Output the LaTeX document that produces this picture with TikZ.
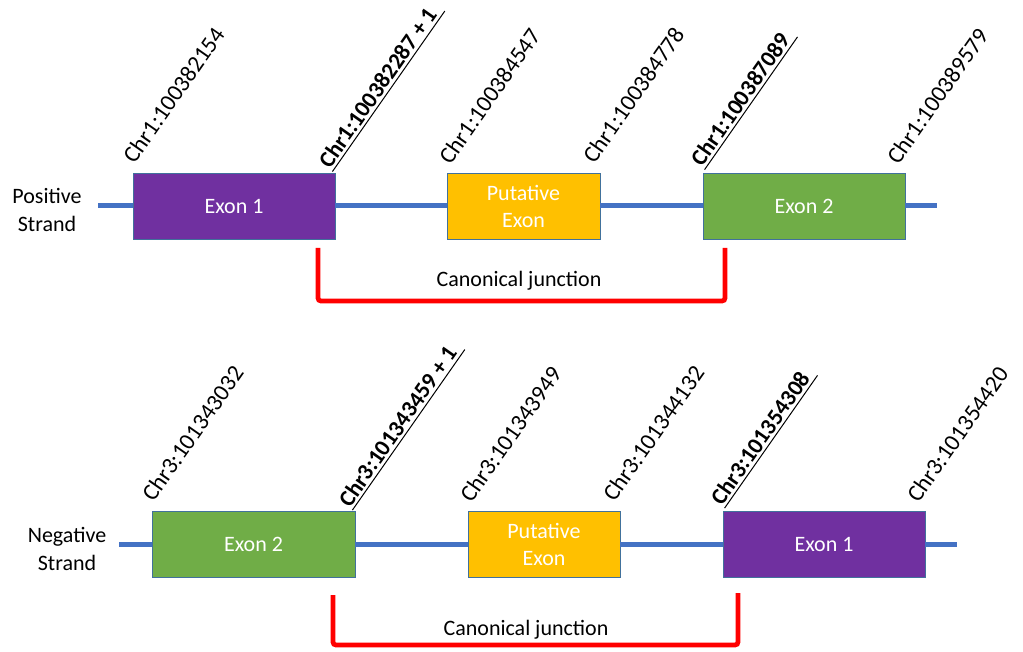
\documentclass[tikz,border=0pt]{standalone}
\usepackage{fontspec}
\setmainfont{Carlito}
\definecolor{exonpurple}{HTML}{7030A0}
\definecolor{exongreen}{HTML}{70AD47}
\definecolor{exonyellow}{HTML}{FFC000}
\definecolor{strandblue}{HTML}{4472C4}
\definecolor{exonedge}{HTML}{41719C}
\begin{document}
\begin{tikzpicture}[x=1pt,y=1pt,
  exon/.style={draw=exonedge, line width=0.8pt, minimum height=66pt, text=white,
    align=center, inner sep=0pt, font=\fontsize{22}{27}\selectfont},
  strand/.style={strandblue, line width=5pt},
  coordlbl/.style={anchor=base west, rotate=55, inner sep=0pt, font=\fontsize{23.5}{26}\selectfont},
  splicelbl/.style={coordlbl, font=\fontsize{23}{26}\selectfont\bfseries},
  underl/.style={line width=1pt},
  junction/.style={red, line width=4.8pt, rounded corners=3pt},
  txt/.style={align=center, font=\fontsize{22}{28}\selectfont}]
\useasboundingbox (0,0) rectangle (1023,651);

% positive strand
\node[exon, fill=exonpurple, minimum width=202pt] (pe1) at (234,445) {Exon 1};
\node[exon, fill=exonyellow, minimum width=153pt] (ppu) at (523.5,445) {Putative\\Exon};
\node[exon, fill=exongreen, minimum width=202pt] (pe2) at (804,445) {Exon 2};
\node[txt] (ptxt) at (47,441) {Positive\\Strand};
\coordinate (ps) at (98,445);
\coordinate (pe) at (937,445);
\draw[strand] (ps) -- (pe1.west) (pe1.east) -- (ppu.west) (ppu.east) -- (pe2.west) (pe2.east) -- (pe);

\node[coordlbl] at ([shift={(2,8)}]pe1.north west) {Chr1:100382154};
\draw[underl] ([shift={(-3,1)}]pe1.north east) coordinate (pu1) -- ++(55:196);
\node[splicelbl] at ([shift={(145:3)}]pu1) {Chr1:100382287 + 1};
\node[coordlbl] at ([shift={(4,7)}]ppu.north west) {Chr1:100384547};
\node[coordlbl] at ([shift={(-6,8)}]ppu.north east) {Chr1:100384778};
\draw[underl] ([shift={(2,3)}]pe2.north west) coordinate (pu2) -- ++(55:162);
\node[splicelbl] at ([shift={(145:3)}]pu2) {Chr1:100387089};
\node[coordlbl] at ([shift={(-7,7)}]pe2.north east) {Chr1:100389579};

\coordinate (pj1) at (318,403);
\coordinate (pj2) at (725,403);
\draw[junction] (pj1) -- ++(0,-53) -| (pj2);
\node[txt] (pjt) at (519,370) {Canonical junction};

% negative strand
\node[exon, fill=exongreen, minimum width=203pt] (ne2) at (253.5,106.5) {Exon 2};
\node[exon, fill=exonyellow, minimum width=152pt] (npu) at (544,106.5) {Putative\\Exon};
\node[exon, fill=exonpurple, minimum width=202pt] (ne1) at (824,106.5) {Exon 1};
\node[txt] (ntxt) at (67,102) {Negative\\Strand};
\coordinate (ns) at (119,106.5);
\coordinate (ne) at (957,106.5);
\draw[strand] (ns) -- (ne2.west) (ne2.east) -- (npu.west) (npu.east) -- (ne1.west) (ne1.east) -- (ne);

\node[coordlbl] at ([shift={(2,8)}]ne2.north west) {Chr3:101343032};
\draw[underl] ([shift={(-3,1)}]ne2.north east) coordinate (nu1) -- ++(55:196);
\node[splicelbl] at ([shift={(145:3)}]nu1) {Chr3:101343459 + 1};
\node[coordlbl] at ([shift={(4,7)}]npu.north west) {Chr3:101343949};
\node[coordlbl] at ([shift={(-6,8)}]npu.north east) {Chr3:101344132};
\draw[underl] ([shift={(2,3)}]ne1.north west) coordinate (nu2) -- ++(55:162);
\node[splicelbl] at ([shift={(145:3)}]nu2) {Chr3:101354308};
\node[coordlbl] at ([shift={(-7,7)}]ne1.north east) {Chr3:101354420};

\coordinate (nj1) at (333,56);
\coordinate (nj2) at (738,58);
\draw[junction] (nj1) -- ++(0,-50) -| (nj2);
\node[txt] (njt) at (526,21) {Canonical junction};
\end{tikzpicture}
\end{document}
